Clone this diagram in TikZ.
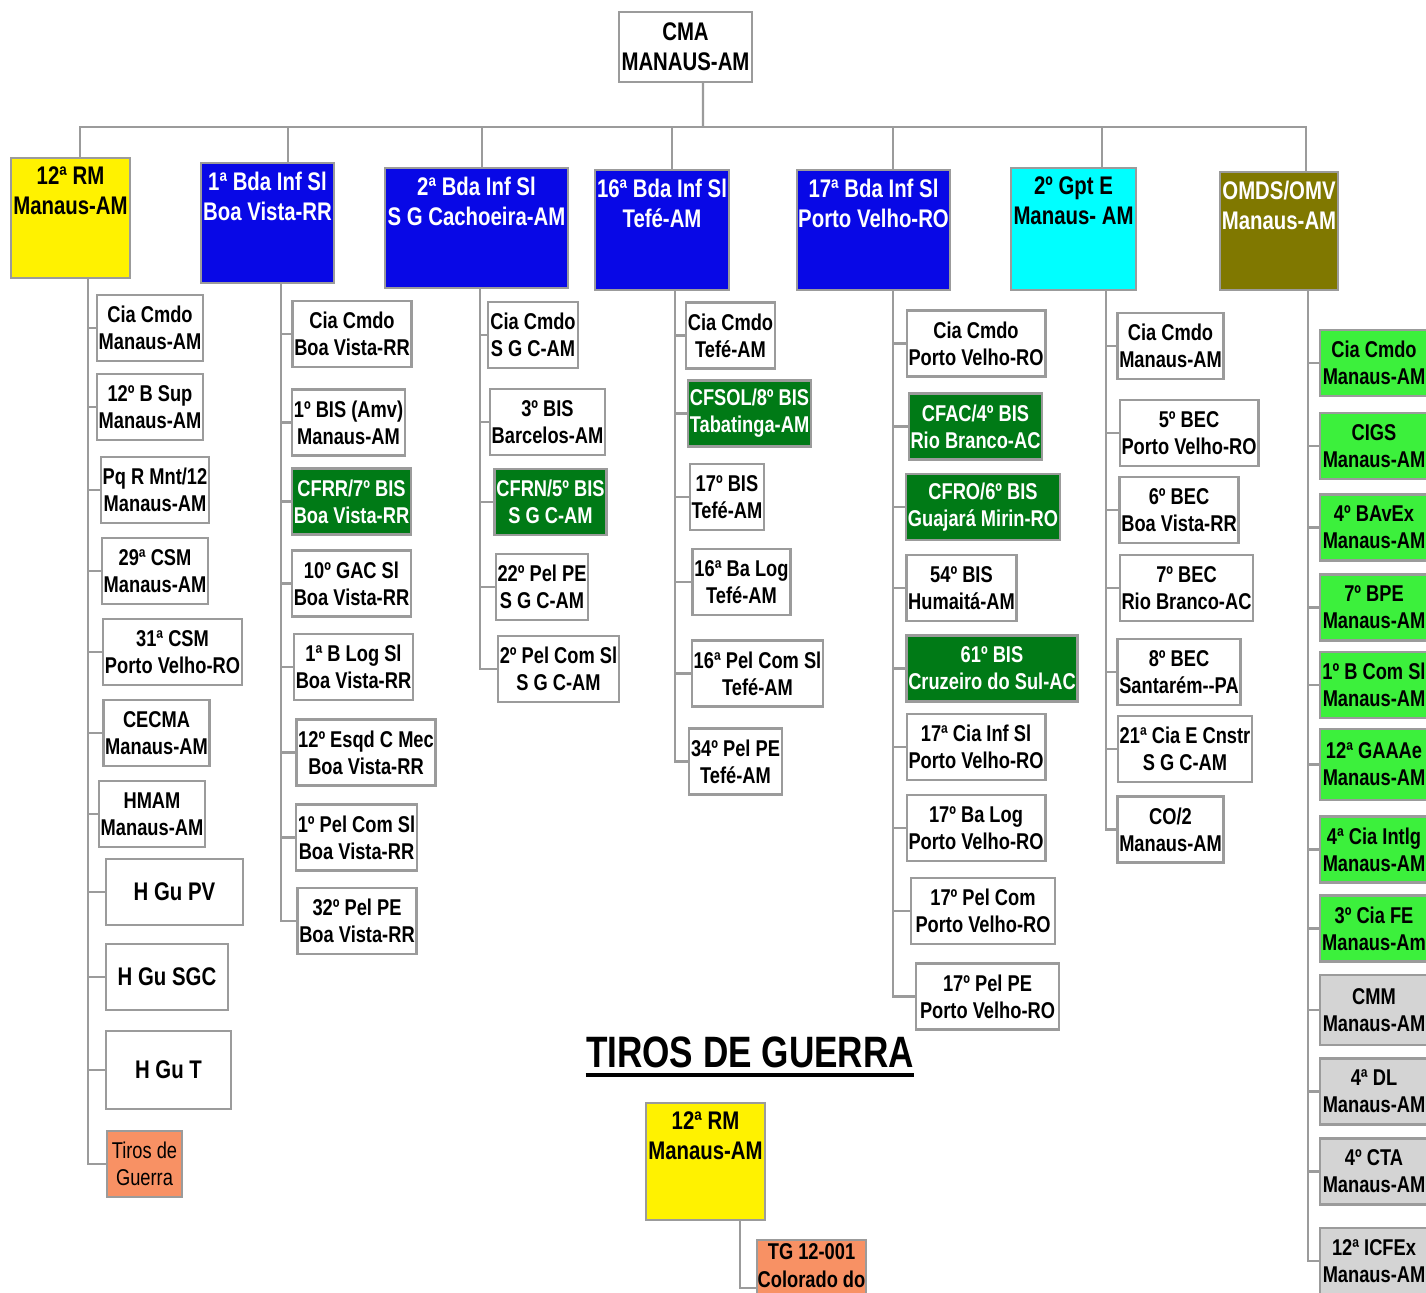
\documentclass[tikz,border=0pt]{standalone}
\usepackage{fontspec}
\setmainfont{Liberation Sans}[FakeStretch=0.8]
\usepackage{tikz}

\definecolor{edge}{RGB}{155,155,155}
\definecolor{bdablue}{RGB}{8,8,230}
\definecolor{gptcyan}{RGB}{0,255,255}
\definecolor{omdsolive}{RGB}{128,120,0}
\definecolor{cfgreen}{RGB}{0,122,22}
\definecolor{omgreen}{RGB}{60,240,60}
\definecolor{omgray}{RGB}{212,212,212}
\definecolor{tgorange}{RGB}{248,145,100}

\newcommand\subsize{\fontsize{13}{15.5}\selectfont\bfseries}
\newcommand\headsize{\fontsize{14.5}{17}\selectfont\bfseries}

\begin{document}
\begin{tikzpicture}[x=0.02cm, y=-0.02cm,
  box/.style={draw=edge, line width=1.4pt, fill=white, align=center, inner sep=1pt,
    outer sep=0pt, font=\subsize, minimum height=1.32cm},
  head/.style={box, font=\headsize},
  wd/.style={minimum width=#1*0.02cm},
  ht/.style={minimum height=#1*0.02cm},
  toptext/.style={anchor=north, align=center, font=\headsize, inner sep=5pt},
  link/.style={draw=edge, line width=1.4pt}]
\useasboundingbox (0,0) rectangle (1426,1292);

\node[head, wd=133, ht=70] (cma) at (685.5,47) {CMA\\MANAUS-AM};

\node[head, wd=119, ht=120, fill=yellow, label={[toptext]north:12ª RM\\Manaus-AM}] (rm) at (70.5,218) {};
\node[head, wd=133, ht=120, fill=bdablue, label={[toptext,text=white]north:1ª Bda Inf Sl\\Boa Vista-RR}] (bda1) at (267.5,223) {};
\node[head, wd=183, ht=120, fill=bdablue, label={[toptext,text=white]north:2ª Bda Inf Sl\\S G Cachoeira-AM}] (bda2) at (476.5,228) {};
\node[head, wd=134, ht=120, fill=bdablue, label={[toptext,text=white]north:16ª Bda Inf Sl\\Tefé-AM}] (bda16) at (662,230) {};
\node[head, wd=153, ht=120, fill=bdablue, label={[toptext,text=white]north:17ª Bda Inf Sl\\Porto Velho-RO}] (bda17) at (873.5,230) {};
\node[head, wd=125, ht=122, fill=gptcyan, label={[toptext]north:2º Gpt E\\Manaus- AM}] (gpt) at (1073.5,229) {};
\node[head, wd=118, ht=118, fill=omdsolive, label={[toptext,text=white]north:OMDS/OMV\\Manaus-AM}] (omds) at (1279,231) {};

\node[box, wd=105] (rmA) at (150,328) {Cia Cmdo\\Manaus-AM};
\node[box, wd=105] (rmB) at (150,407) {12º B Sup\\Manaus-AM};
\node[box, wd=106] (rmC) at (155,490) {Pq R Mnt/12\\Manaus-AM};
\node[box, wd=105] (rmD) at (155,571) {29ª CSM\\Manaus-AM};
\node[box, wd=137] (rmE) at (172.5,652) {31ª CSM\\Porto Velho-RO};
\node[box, wd=105] (rmF) at (156.5,733) {CECMA\\Manaus-AM};
\node[box, wd=106] (rmG) at (152,814) {HMAM\\Manaus-AM};
\node[box, wd=137, font=\headsize] (rmH) at (174.5,892) {H Gu PV};
\node[box, wd=122, font=\headsize] (rmI) at (167,977) {H Gu SGC};
\node[box, wd=125, ht=78, font=\headsize] (rmJ) at (168.5,1070) {H Gu T};
\node[box, wd=75, fill=tgorange, font=\fontsize{13}{15.5}\selectfont] (rmK) at (144.5,1164) {Tiros de\\Guerra};

\node[box, wd=118] (b1A) at (352,334) {Cia Cmdo\\Boa Vista-RR};
\node[box, wd=111] (b1B) at (348.5,422.5) {1º BIS (Amv)\\Manaus-AM};
\node[box, wd=117, fill=cfgreen, text=white] (b1C) at (351.5,501.5) {CFRR/7º BIS\\Boa Vista-RR};
\node[box, wd=117] (b1D) at (351.5,583.5) {10º GAC Sl\\Boa Vista-RR};
\node[box, wd=117] (b1E) at (353.5,667) {1ª B Log Sl\\Boa Vista-RR};
\node[box, wd=138] (b1F) at (366,752.5) {12º Esqd C Mec\\Boa Vista-RR};
\node[box, wd=119] (b1G) at (356.5,837.5) {1º Pel Com Sl\\Boa Vista-RR};
\node[box, wd=118] (b1H) at (357,921) {32º Pel PE\\Boa Vista-RR};

\node[box, wd=90] (b2A) at (533,335) {Cia Cmdo\\S G C-AM};
\node[box, wd=113] (b2B) at (547.5,422) {3º BIS\\Barcelos-AM};
\node[box, wd=111, fill=cfgreen, text=white] (b2C) at (550.5,502) {CFRN/5º BIS\\S G C-AM};
\node[box, wd=90] (b2D) at (542,587) {22º Pel PE\\S G C-AM};
\node[box, wd=119] (b2E) at (558.5,669) {2º Pel Com Sl\\S G C-AM};

\node[box, wd=87] (b16A) at (730.5,335.5) {Cia Cmdo\\Tefé-AM};
\node[box, wd=121, fill=cfgreen, text=white] (b16B) at (749.5,413.5) {CFSOL/8º BIS\\Tabatinga-AM};
\node[box, wd=72] (b16C) at (727,497) {17º BIS\\Tefé-AM};
\node[box, wd=97] (b16D) at (741.5,582) {16ª Ba Log\\Tefé-AM};
\node[box, wd=129] (b16E) at (757.5,673.5) {16ª Pel Com Sl\\Tefé-AM};
\node[box, wd=93] (b16F) at (735.5,761.5) {34º Pel PE\\Tefé-AM};

\node[box, wd=138] (b17A) at (976,343.5) {Cia Cmdo\\Porto Velho-RO};
\node[box, wd=131, fill=cfgreen, text=white] (b17B) at (975.5,426.5) {CFAC/4º BIS\\Rio Branco-AC};
\node[box, wd=152, fill=cfgreen, text=white] (b17C) at (983,507) {CFRO/6º BIS\\Guajará Mirin-RO};
\node[box, wd=109] (b17D) at (961.5,588) {54º BIS\\Humaitá-AM};
\node[box, wd=170, fill=cfgreen, text=white] (b17E) at (992,668.5) {61º BIS\\Cruzeiro do Sul-AC};
\node[box, wd=138] (b17F) at (976,747) {17ª Cia Inf Sl\\Porto Velho-RO};
\node[box, wd=138] (b17G) at (976,828) {17º Ba Log\\Porto Velho-RO};
\node[box, wd=144] (b17H) at (983,911) {17º Pel Com\\Porto Velho-RO};
\node[box, wd=143] (b17I) at (987.5,996.5) {17º Pel PE\\Porto Velho-RO};

\node[box, wd=105] (gA) at (1170.5,346) {Cia Cmdo\\Manaus-AM};
\node[box, wd=138] (gB) at (1189,433) {5º BEC\\Porto Velho-RO};
\node[box, wd=118] (gC) at (1179,510) {6º BEC\\Boa Vista-RR};
\node[box, wd=133] (gD) at (1186.5,588) {7º BEC\\Rio Branco-AC};
\node[box, wd=122] (gE) at (1179,672) {8º BEC\\Santarém-{}-PA};
\node[box, wd=134] (gF) at (1185,749) {21ª Cia E Cnstr\\S G C-AM};
\node[box, wd=105] (gG) at (1170.5,829.5) {CO/2\\Manaus-AM};

\node[box, wd=108, fill=omgreen] (oA) at (1374,363) {Cia Cmdo\\Manaus-AM};
\node[box, wd=108, fill=omgreen] (oB) at (1374,446) {CIGS\\Manaus-AM};
\node[box, wd=108, fill=omgreen] (oC) at (1374,527.5) {4º BAvEx\\Manaus-AM};
\node[box, wd=108, fill=omgreen] (oD) at (1374,607.5) {7º BPE\\Manaus-AM};
\node[box, wd=108, fill=omgreen] (oE) at (1374,685) {1º B Com Sl\\Manaus-AM};
\node[box, wd=108, ht=71, fill=omgreen] (oF) at (1374,764.5) {12ª GAAAe\\Manaus-AM};
\node[box, wd=108, fill=omgreen] (oG) at (1374,849.5) {4ª Cia Intlg\\Manaus-AM};
\node[box, wd=108, fill=omgreen] (oH) at (1374,928.5) {3º Cia FE\\Manaus-Am};
\node[box, wd=108, ht=70, fill=omgray] (oI) at (1374,1010) {CMM\\Manaus-AM};
\node[box, wd=108, fill=omgray] (oJ) at (1374,1091.5) {4ª DL\\Manaus-AM};
\node[box, wd=108, fill=omgray] (oK) at (1374,1171.5) {4º CTA\\Manaus-AM};
\node[box, wd=108, fill=omgray] (oL) at (1374,1261) {12ª ICFEx\\Manaus-AM};

\node[font=\fontsize{25}{29}\selectfont\bfseries, inner sep=0pt] (tgtitle) at (750,1052) {TIROS DE GUERRA};
\node[head, wd=119, ht=117, fill=yellow, label={[toptext]north:12ª RM\\Manaus-AM}] (rm2) at (705.5,1161.5) {};
\node[box, wd=109, ht=96, fill=tgorange, label={[toptext,font=\subsize,inner sep=2pt]north:TG 12-001\\Colorado do}] (tg) at (811.5,1288) {};

\draw[line width=2.2pt] ([yshift=-0.14cm]tgtitle.south west) -- ([yshift=-0.14cm]tgtitle.south east);

\coordinate (bus) at (703,127);
\draw[link] ([xshift=0.35cm]cma.south) -- (bus);
\foreach \n/\dx in {rm/0.19, bda1/0.41, bda2/0.11, bda16/0.2, bda17/0.39, gpt/0.57, omds/0.54}
  \draw[link] ([xshift=\dx cm]\n.north) |- (bus);

\foreach \c in {rmA,rmB,rmC,rmD,rmE,rmF,rmG,rmH,rmI,rmJ,rmK}
  \draw[link] ([xshift=0.35cm]rm.south) |- (\c.west);
\foreach \c in {b1A,b1B,b1C,b1D,b1E,b1F,b1G,b1H}
  \draw[link] ([xshift=0.27cm]bda1.south) |- (\c.west);
\foreach \c in {b2A,b2B,b2C,b2D,b2E}
  \draw[link] ([xshift=0.07cm]bda2.south) |- (\c.west);
\foreach \c in {b16A,b16B,b16C,b16D,b16E,b16F}
  \draw[link] ([xshift=0.26cm]bda16.south) |- (\c.west);
\foreach \c in {b17A,b17B,b17C,b17D,b17E,b17F,b17G,b17H,b17I}
  \draw[link] ([xshift=0.39cm]bda17.south) |- (\c.west);
\foreach \c in {gA,gB,gC,gD,gE,gF,gG}
  \draw[link] ([xshift=0.65cm]gpt.south) |- (\c.west);
\foreach \c in {oA,oB,oC,oD,oE,oF,oG,oH,oI,oJ,oK,oL}
  \draw[link] ([xshift=0.58cm]omds.south) |- (\c.west);

\draw[link] ([xshift=0.69cm]rm2.south) |- (tg.west);
\end{tikzpicture}
\end{document}
